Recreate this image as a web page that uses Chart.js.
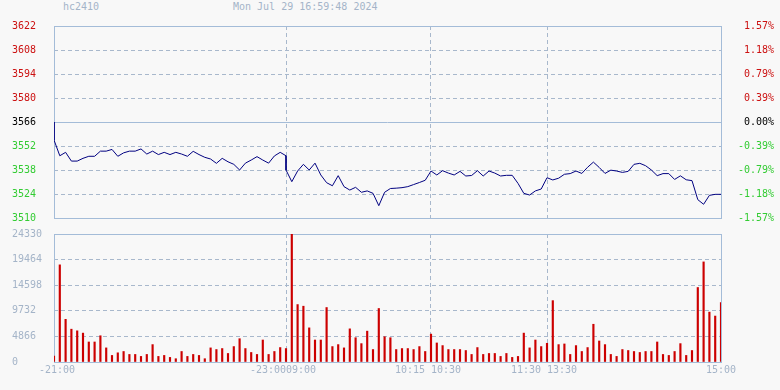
<!DOCTYPE html>
<html lang="en">
<head>
  <meta charset="UTF-8" />
  <title>hc2410</title>
  <script src="https://cdn.jsdelivr.net/npm/chart.js"></script>
  <style>
    body { margin: 0; background: #f8f8f8; font-family: "DejaVu Sans Mono", monospace; }
    #wrap { position: relative; width: 780px; height: 390px; }
    .hdr { position: absolute; top: 1px; font-size: 10px; line-height: 12px; color: #a4b4c8; white-space: pre; }
    canvas { position: absolute; left: 0; }
  </style>
</head>
<body>
  <div id="wrap">
    <div class="hdr" style="left:63px">hc2410</div>
    <div class="hdr" style="left:233px">Mon Jul 29 16:59:48 2024</div>
    <canvas id="priceChart" width="780" height="226" style="top:0"></canvas>
    <canvas id="volChart" width="780" height="164" style="top:226px"></canvas>
  </div>

  <script>
    const prevClose = 3566;
    const dayOpen = 3538;
    const priceTicks = [3510, 3524, 3538, 3552, 3566, 3580, 3594, 3608, 3622];
    const volTicks = [0, 4866, 9732, 14598, 19464, 24330];
    // positions are 3-minute bar numbers; sessions are joined end to end
    const timeTicks = [0, 40, 65, 85, 115];
    const timeLabels = [' -21:00', '-23:0009:00 ', '10:15 10:30 ', '11:30 13:30 ', '15:00'];

    const prices = [
      3555.5, 3546.3, 3548.3, 3543.2, 3543.2, 3544.8, 3546, 3546, 3549, 3549,
      3550, 3546, 3548, 3549, 3549, 3550.3, 3547.3, 3549, 3547, 3548.3,
      3547, 3548.3, 3547.3, 3546, 3548.9, 3547, 3545.4, 3544.4, 3541.9, 3544.8,
      3542.8, 3541.3, 3538, 3542, 3543.8, 3545.8, 3543.8, 3542, 3546.2, 3548.3,
      3546.3, 3531.2, 3537.4, 3541.3, 3538, 3542, 3535.1, 3530.6, 3528.8, 3534.7,
      3528.3, 3526.3, 3527.9, 3525, 3525.8, 3524.4, 3517.2, 3525, 3527.2, 3527.4,
      3527.7, 3528.3, 3529.5, 3530.7, 3532, 3537.4, 3535.1, 3537.6, 3536.2, 3535.1,
      3537.2, 3534.5, 3534.8, 3537.6, 3534.5, 3537.4, 3536.2, 3534.5, 3534.9, 3534.9,
      3530.2, 3524.4, 3523.4, 3525.8, 3526.9, 3533.5, 3532.2, 3533.2, 3535.5, 3535.9,
      3537.4, 3536, 3539.6, 3542.6, 3539.5, 3536, 3537.9, 3537.4, 3536.6, 3537.2,
      3541.3, 3541.9, 3540.5, 3538, 3534.7, 3535.9, 3535.9, 3532.5, 3534.6, 3532.3,
      3531.8, 3520.7, 3518, 3523.2, 3523.8, 3523.8
    ];

    const volumes = [
      1123, 18465, 8110, 6238, 5926, 5490, 3805, 3805, 4990, 2682,
      1248, 1747, 1996, 1435, 1435, 1060, 1435, 3306, 1060, 1248,
      873, 624, 1996, 1060, 1435, 1248, 624, 2682, 2370, 2558,
      1622, 2932, 4429, 2558, 1809, 1435, 4180, 1435, 1996, 2745,
      2558, 24330, 10917, 10605, 6488, 4180, 4180, 10355, 2932, 3306,
      2682, 6300, 4616, 3493, 5864, 2370, 10168, 4803, 4616, 2370,
      2558, 2558, 2370, 2932, 1996, 5302, 3618, 3119, 2370, 2370,
      2370, 2183, 1435, 2745, 1435, 1622, 1622, 1060, 1622, 873,
      1060, 5490, 2682, 4180, 2932, 3556, 11665, 3306, 3431, 1435,
      3119, 1996, 2745, 7174, 3992, 3306, 1435, 1060, 2370, 2183,
      1996, 1809, 1996, 1996, 3805, 1435, 1248, 1996, 3493, 1248,
      2183, 14161, 19026, 9482, 8733, 11291
    ];

    const FONT = { family: 'DejaVu Sans Mono', size: 10 };
    const GRID = '#a8b8cc';
    const FRAME = '#a4bcd8';

    // price line: open from previous close, and the day session open at bar 40
    const pricePoints = [];
    prices.forEach((p, k) => {
      if (k === 0) pricePoints.push({ x: 0, y: prevClose });
      pricePoints.push({ x: k, y: p });
      if (k === 40) pricePoints.push({ x: 40, y: dayOpen });
    });
    const volPoints = volumes.map((v, k) => ({ x: k, y: v }));

    function priceColor(v) {
      if (v > prevClose) return '#cc1111';
      if (v < prevClose) return '#33cc33';
      return '#000000';
    }

    const framePlugin = {
      id: 'frame',
      beforeDatasetsDraw(chart, args, opts) {
        const { ctx, chartArea: a } = chart;
        ctx.save();
        ctx.strokeStyle = FRAME;
        ctx.lineWidth = 1;
        ctx.strokeRect(Math.round(a.left) + 0.5, Math.round(a.top) + 0.5,
          Math.round(a.right - a.left), Math.round(a.bottom - a.top));
        if (opts.baseValue !== undefined) {
          const y = Math.round(chart.scales.y.getPixelForValue(opts.baseValue)) + 0.5;
          ctx.beginPath();
          ctx.moveTo(a.left, y);
          ctx.lineTo(a.right, y);
          ctx.stroke();
        }
        ctx.restore();
      }
    };

    function timeAxis(showLabels) {
      return {
        type: 'linear',
        min: 0,
        max: 115,
        offset: false,
        afterBuildTicks: s => { s.ticks = timeTicks.map(v => ({ value: v })); },
        grid: {
          offset: false,
          color: c => (c.tick && (c.tick.value === 0 || c.tick.value === 115)) ? 'rgba(0,0,0,0)' : GRID,
          drawTicks: false
        },
        border: { display: false, dash: [4, 3] },
        ticks: {
          display: showLabels,
          autoSkip: false,
          maxRotation: 0,
          padding: 2,
          color: '#a4b4c8',
          font: FONT,
          callback: v => timeLabels[timeTicks.indexOf(v)]
        }
      };
    }

    function hiddenEdges(vals, extra) {
      return c => {
        const v = c.tick ? c.tick.value : null;
        if (v === vals[0] || v === vals[vals.length - 1] || v === extra) return 'rgba(0,0,0,0)';
        return GRID;
      };
    }

    new Chart(document.getElementById('priceChart'), {
      type: 'line',
      data: {
        datasets: [{
          data: pricePoints,
          borderColor: '#000080',
          borderWidth: 1,
          pointRadius: 0,
          tension: 0
        }]
      },
      options: {
        responsive: false,
        animation: false,
        devicePixelRatio: 1,
        layout: { padding: { top: 26, left: 12, right: 6, bottom: 8 } },
        plugins: {
          legend: { display: false },
          tooltip: { enabled: false },
          frame: { baseValue: prevClose }
        },
        scales: {
          x: timeAxis(false),
          y: {
            position: 'left',
            min: priceTicks[0],
            max: priceTicks[priceTicks.length - 1],
            afterBuildTicks: s => { s.ticks = priceTicks.map(v => ({ value: v })); },
            afterFit: s => { s.width = 42; },
            grid: { color: hiddenEdges(priceTicks, prevClose), drawTicks: false },
            border: { display: false, dash: [4, 3] },
            ticks: {
              crossAlign: 'far',
              padding: 0,
              font: FONT,
              color: c => priceColor(c.tick.value),
              callback: v => String(v)
            }
          },
          yPct: {
            position: 'right',
            min: priceTicks[0],
            max: priceTicks[priceTicks.length - 1],
            afterBuildTicks: s => { s.ticks = priceTicks.map(v => ({ value: v })); },
            afterFit: s => { s.width = 53; },
            grid: { drawOnChartArea: false, drawTicks: false },
            border: { display: false },
            ticks: {
              crossAlign: 'far',
              padding: 0,
              font: FONT,
              color: c => priceColor(c.tick.value),
              callback: v => ((v - prevClose) / prevClose * 100).toFixed(2) + '%'
            }
          }
        }
      },
      plugins: [framePlugin]
    });

    new Chart(document.getElementById('volChart'), {
      type: 'bar',
      data: {
        datasets: [{
          data: volPoints,
          backgroundColor: '#cc0000',
          barThickness: 1.5
        }]
      },
      options: {
        responsive: false,
        animation: false,
        devicePixelRatio: 1,
        layout: { padding: { top: 8, left: 12, right: 6, bottom: 12 } },
        plugins: {
          legend: { display: false },
          tooltip: { enabled: false },
          frame: {}
        },
        scales: {
          x: timeAxis(true),
          y: {
            position: 'left',
            min: 0,
            max: volTicks[volTicks.length - 1],
            afterBuildTicks: s => { s.ticks = volTicks.map(v => ({ value: v })); },
            afterFit: s => { s.width = 42; },
            grid: { color: hiddenEdges(volTicks), drawTicks: false },
            border: { display: false, dash: [4, 3] },
            ticks: {
              crossAlign: 'far',
              padding: 0,
              font: FONT,
              color: '#a4b4c8',
              callback: v => String(v)
            }
          },
          yRight: {
            position: 'right',
            min: 0,
            max: volTicks[volTicks.length - 1],
            afterFit: s => { s.width = 53; },
            grid: { drawOnChartArea: false, drawTicks: false },
            border: { display: false },
            ticks: { display: false }
          }
        }
      },
      plugins: [framePlugin]
    });
  </script>
</body>
</html>
